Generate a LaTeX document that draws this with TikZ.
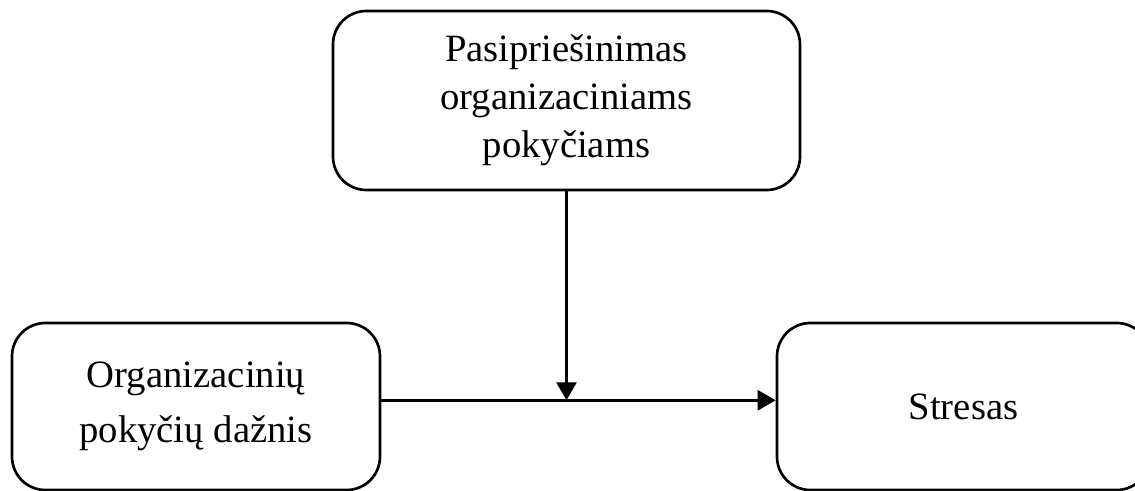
\documentclass[tikz,border=0pt]{standalone}
\usepackage{fontspec}
\setmainfont{Liberation Serif}
\usetikzlibrary{arrows.meta}
\begin{document}
\begin{tikzpicture}[x=0.75pt,y=-0.75pt,
  box/.style={draw=black,line width=2pt,rounded corners=25pt,fill=white,align=center,
    inner sep=0pt,font=\fontsize{29}{36}\selectfont},
  conn/.style={line width=2.1pt,-{Triangle[length=13.5pt,width=15pt]}}]
\useasboundingbox (0,0) rectangle (1135,491);
\clip (0,0) rectangle (1135,491);
\node[box,minimum width=350.25pt,minimum height=134.25pt] (T) at (566.5,100.5)
  {Pasipriešinimas\\organizaciniams\\pokyčiams};
\node[box,minimum width=276pt,minimum height=125.25pt,font=\fontsize{29}{41}\selectfont] (L) at (196,406.5)
  {Organizacinių\\pokyčių dažnis};
\node[box,minimum width=279.75pt,minimum height=125.25pt] (R) at (963.5,406.5)
  {Stresas};
\coordinate (h) at (566.5,400.3);
\draw[conn] (L.east |- h) -- (R.west |- h);
\draw[conn] (T.south) -- (h);
\end{tikzpicture}
\end{document}
